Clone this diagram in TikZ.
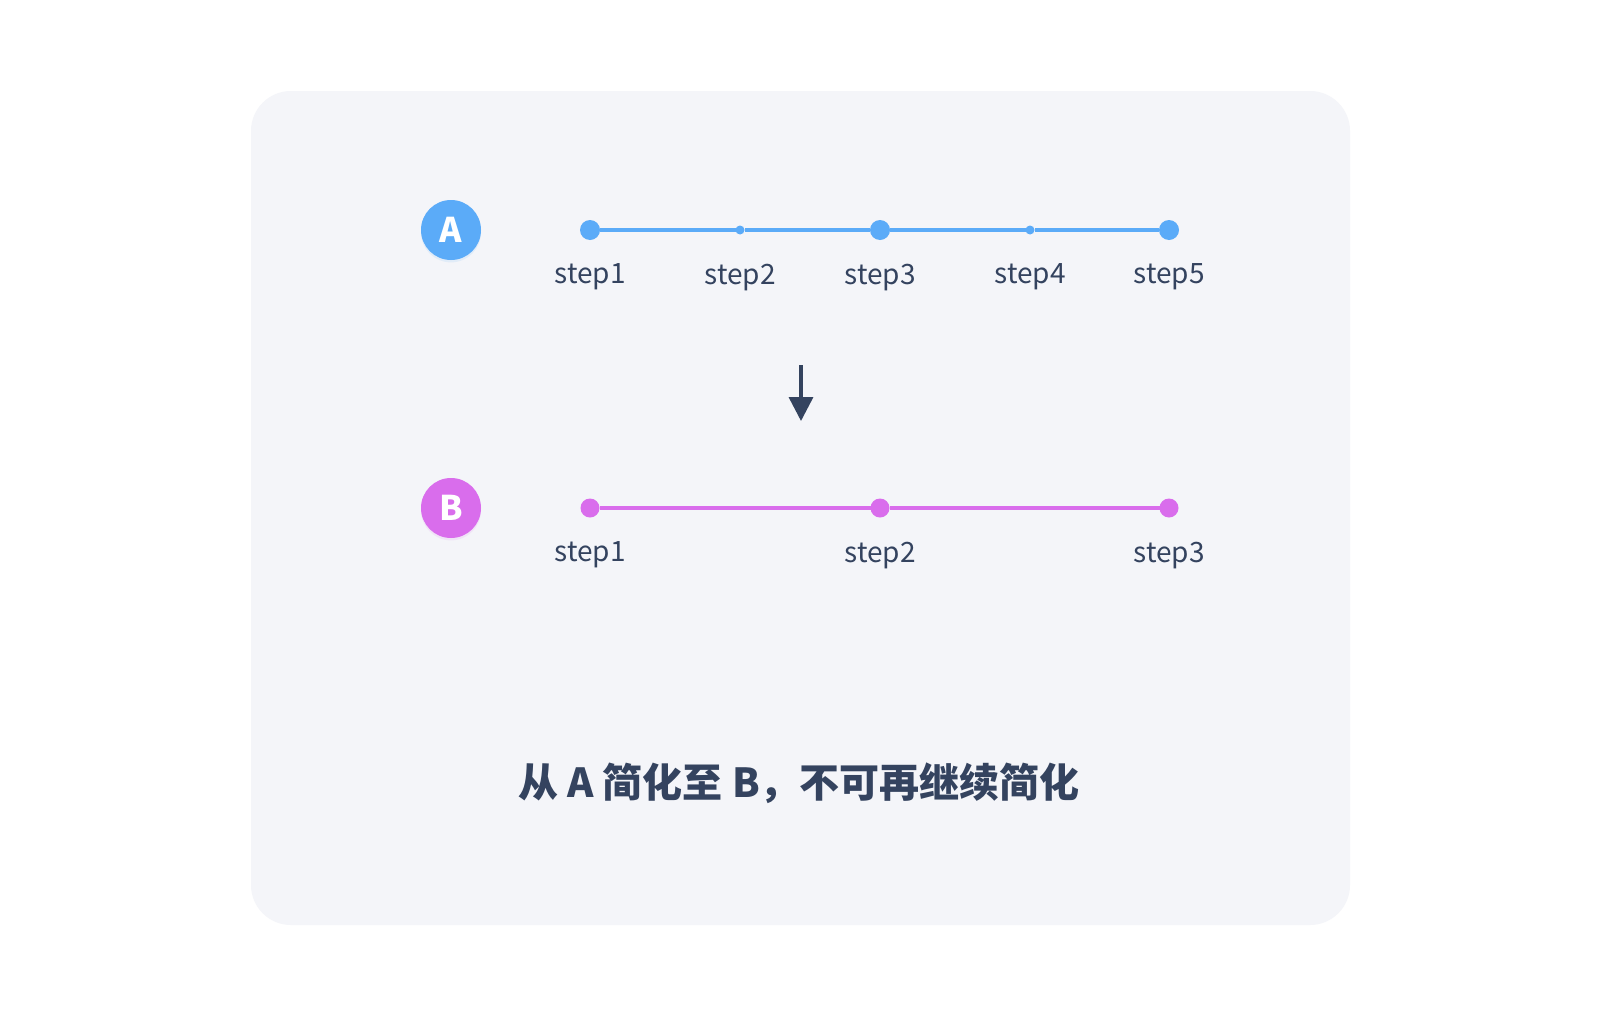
\documentclass[tikz,border=0pt]{standalone}
\usepackage{fontspec}
\setmainfont{Noto Sans CJK SC}
\usetikzlibrary{positioning,arrows.meta,shadows}

\definecolor{panelbg}{HTML}{F4F5F9}
\definecolor{inkblue}{HTML}{34435F}
\definecolor{linea}{HTML}{5BABF8}
\definecolor{lineb}{HTML}{D96DEC}

\tikzset{
  bigdot/.style={circle,fill=#1,minimum size=10pt,inner sep=0,outer sep=0},
  smalldot/.style={circle,fill=#1,minimum size=4.5pt,inner sep=0,outer sep=0},
  steplabel/.style={text=inkblue,font=\fontsize{14}{16}\selectfont,inner sep=0,outer sep=0},
  badge/.style={circle,fill=#1,minimum size=30pt,inner sep=0,text=white,
    font=\bfseries\fontsize{17}{20}\selectfont,
    drop shadow={opacity=0.12,fill=#1,shadow xshift=0pt,shadow yshift=-1.2pt}},
}

\begin{document}
\begin{tikzpicture}[x=0.5pt,y=-0.5pt]
  \path[fill=white] (0,0) rectangle (1600,1028);
  \useasboundingbox (0,0) rectangle (1600,1028);
  \fill[panelbg,rounded corners=20pt] (251,91) rectangle (1350,925);

  % path A
  \node[badge=linea] (ba) at (451,230) {A};
  \node[bigdot=linea] (a1) at (590,230) {};
  \node[smalldot=linea] (a2) at (740,230) {};
  \node[bigdot=linea] (a3) at (880,230) {};
  \node[smalldot=linea] (a4) at (1030,230) {};
  \node[bigdot=linea] (a5) at (1169,230) {};
  \draw[linea,line width=1.75pt] (a1) -- (a2) -- (a3) -- (a4) -- (a5);
  \foreach \i in {1,...,5}
    \node[steplabel,below=17pt of a\i.center] (la\i) {step\i};

  % arrow
  \coordinate (atop) at (801,365);
  \coordinate (abot) at (801,421);
  \draw[inkblue,line width=1.75pt,-{Triangle[width=12pt,length=12pt]}] (atop) -- (abot);

  % path B
  \node[badge=lineb] (bb) at (451,508) {B};
  \node[bigdot=lineb,minimum size=9.5pt] (b1) at (590,508) {};
  \node[bigdot=lineb,minimum size=9.5pt] (b2) at (880,508) {};
  \node[bigdot=lineb,minimum size=9.5pt] (b3) at (1169,508) {};
  \draw[lineb,line width=1.75pt] (b1) -- (b2) -- (b3);
  \foreach \i in {1,2,3}
    \node[steplabel,below=17pt of b\i.center] (lb\i) {step\i};

  \node[text=inkblue,font=\bfseries\fontsize{20}{24}\selectfont] (caption) at (799,783)
    {从 A 简化至 B，不可再继续简化};
\end{tikzpicture}
\end{document}
